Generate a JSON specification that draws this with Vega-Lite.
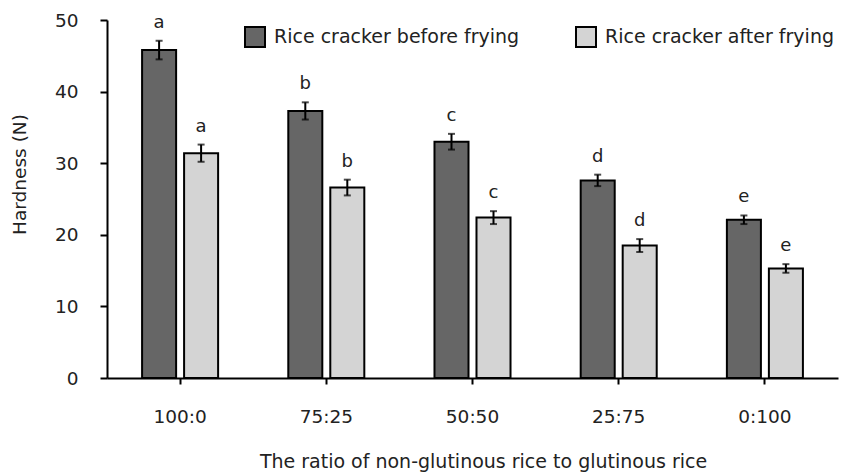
{
  "$schema": "https://vega.github.io/schema/vega-lite/v6.json",
  "width": 731,
  "height": 358,
  "autosize": {"type": "none"},
  "padding": {"left": 107, "top": 20, "right": 3, "bottom": 96},
  "background": "white",
  "config": {
    "view": {"stroke": null},
    "font": "DejaVu Sans",
    "axis": {"labelColor": "#222", "titleColor": "#222", "domainColor": "black", "tickColor": "black", "grid": false, "titleFontWeight": "normal"}
  },
  "data": {
    "values": [
      {"ratio": "100:0", "group": "Rice cracker before frying", "mean": 45.8, "lo": 44.5, "hi": 47.1, "letter": "a"},
      {"ratio": "100:0", "group": "Rice cracker after frying", "mean": 31.4, "lo": 30.2, "hi": 32.6, "letter": "a"},
      {"ratio": "75:25", "group": "Rice cracker before frying", "mean": 37.3, "lo": 36.1, "hi": 38.5, "letter": "b"},
      {"ratio": "75:25", "group": "Rice cracker after frying", "mean": 26.6, "lo": 25.5, "hi": 27.7, "letter": "b"},
      {"ratio": "50:50", "group": "Rice cracker before frying", "mean": 33.0, "lo": 31.9, "hi": 34.1, "letter": "c"},
      {"ratio": "50:50", "group": "Rice cracker after frying", "mean": 22.4, "lo": 21.5, "hi": 23.3, "letter": "c"},
      {"ratio": "25:75", "group": "Rice cracker before frying", "mean": 27.6, "lo": 26.8, "hi": 28.4, "letter": "d"},
      {"ratio": "25:75", "group": "Rice cracker after frying", "mean": 18.5, "lo": 17.6, "hi": 19.4, "letter": "d"},
      {"ratio": "0:100", "group": "Rice cracker before frying", "mean": 22.1, "lo": 21.5, "hi": 22.7, "letter": "e"},
      {"ratio": "0:100", "group": "Rice cracker after frying", "mean": 15.3, "lo": 14.7, "hi": 15.9, "letter": "e"}
    ]
  },
  "encoding": {
    "x": {
      "field": "ratio",
      "type": "nominal",
      "sort": ["100:0", "75:25", "50:50", "25:75", "0:100"],
      "scale": {"paddingInner": 0.48, "paddingOuter": 0.24},
      "axis": {
        "title": "The ratio of non-glutinous rice to glutinous rice",
        "labelAngle": 0,
        "labelFontSize": 18.5,
        "titleFontSize": 19,
        "labelPadding": 23,
        "titlePadding": 27,
        "titleX": 376,
        "tickSize": 6,
        "tickWidth": 2,
        "domainWidth": 2
      }
    },
    "xOffset": {
      "field": "group",
      "type": "nominal",
      "sort": ["Rice cracker before frying", "Rice cracker after frying"],
      "scale": {"paddingInner": 0.19}
    }
  },
  "layer": [
    {
      "mark": {"type": "bar", "stroke": "black", "strokeWidth": 2},
      "encoding": {
        "y": {
          "field": "mean",
          "type": "quantitative",
          "scale": {"domain": [0, 50], "nice": false},
          "axis": {
            "title": "Hardness (N)",
            "values": [0, 5, 10, 15, 20, 25, 30, 35, 40, 45, 50],
            "labelExpr": "datum.value % 10 == 0 ? datum.label : ''",
            "labelFontSize": 18.5,
            "titleFontSize": 18.5,
            "labelPadding": 22,
            "tickSize": 7,
            "tickWidth": 2,
            "domainWidth": 2,
            "titleX": -78,
            "titleY": 154
          }
        },
        "fill": {
          "field": "group",
          "type": "nominal",
          "scale": {"domain": ["Rice cracker before frying", "Rice cracker after frying"], "range": ["#666666", "#d4d4d4"]},
          "legend": {
            "title": null,
            "orient": "none",
            "legendX": 137,
            "legendY": 6,
            "direction": "horizontal",
            "symbolType": "square",
            "symbolSize": 400,
            "symbolStrokeColor": "black",
            "symbolStrokeWidth": 2,
            "labelFontSize": 19,
            "labelColor": "#222",
            "labelOffset": 8,
            "labelLimit": 0,
            "columnPadding": 52
          }
        }
      }
    },
    {
      "mark": {"type": "rule", "color": "black", "strokeWidth": 2},
      "encoding": {
        "y": {"field": "lo", "type": "quantitative"},
        "y2": {"field": "hi"}
      }
    },
    {
      "mark": {"type": "tick", "color": "black", "thickness": 2, "size": 7},
      "encoding": {"y": {"field": "lo", "type": "quantitative"}}
    },
    {
      "mark": {"type": "tick", "color": "black", "thickness": 2, "size": 7},
      "encoding": {"y": {"field": "hi", "type": "quantitative"}}
    },
    {
      "mark": {"type": "text", "fontSize": 18, "color": "#222", "baseline": "alphabetic", "dy": -13},
      "encoding": {
        "y": {"field": "hi", "type": "quantitative"},
        "text": {"field": "letter"}
      }
    }
  ]
}
